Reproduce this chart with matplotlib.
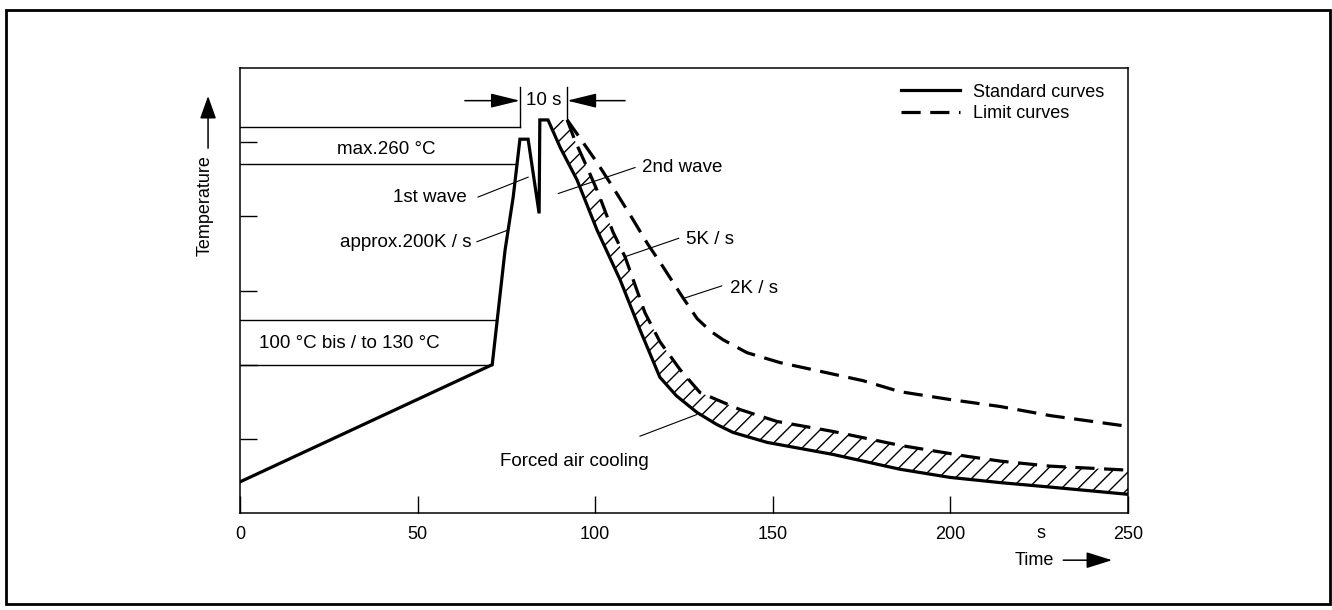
import numpy as np
import matplotlib
matplotlib.use("Agg")
import matplotlib.pyplot as plt
from matplotlib.patches import Rectangle

plt.rcParams["font.family"] = ["Liberation Sans", "DejaVu Sans"]
plt.rcParams["font.size"] = 13

# standard profile: preheat, 1st wave, 2nd wave, forced air cooling (t in s, T in degC)
t_std = [0, 71, 72.4, 74.6, 76.9, 78.8, 81.1, 84.2, 84.4, 86.7, 90.1, 94.9, 100.5,
         107.0, 112.6, 118.2, 122.9, 128.7, 134.2, 138.8, 148.4, 166.9, 185.8, 199.9,
         214.0, 228.0, 250]
T_std = [21, 100, 130, 177, 213, 252, 252, 202, 265, 265, 246.6, 224.4, 190.8,
         157.2, 123.5, 91.5, 78.9, 67.7, 59.7, 54.3, 47.6, 39.5, 29.5, 24.0,
         20.5, 17.5, 12.6]

# limit curve 5 K/s (edge of the hatched band)
t_5k = [92.1, 94.3, 97.7, 100.8, 105.0, 108.4, 111.2, 114.0, 118.2, 123.9, 129.5,
        140.8, 151.2, 166.9, 185.8, 204.7, 214.0, 228.0, 250]
T_5k = [265, 251, 233, 216, 189.4, 172.6, 153.8, 135.0, 115.5, 96.6, 81.2,
        69.7, 61.7, 55.0, 45.6, 38.2, 35.0, 31.6, 28.9]

# limit curve 2 K/s
t_2k = [92.1, 95.2, 100.5, 105.0, 110.4, 114.6, 119.1, 124.7, 128.7, 132.5, 136.0,
        142.7, 152.0, 161.3, 175.4, 185.8, 199.9, 214.0, 228.0, 250]
T_2k = [265, 254.5, 236.3, 219.5, 198.7, 182.0, 165.9, 145.1, 131.0, 122.5, 116.8,
        108.1, 101.4, 96.6, 89.2, 81.8, 76.5, 71.8, 65.7, 58.4]

band_T = [100, 130, 235, 260]          # preheat window, peak window
x_ticks = [0, 50, 100, 150, 200, 250]
y_ticks = [50, 100, 150, 200, 250]

fig = plt.figure(figsize=(13.32, 6.10), dpi=100)
ax = fig.add_axes([0.1802, 0.159, 0.6667, 0.7295])
ax.set_xlim(0, 250)
ax.set_ylim(0, 300)

# helper lines of the temperature windows, ending on the rising flank
rise_t, rise_T = t_std[1:6], T_std[1:6]
for T in band_T:
    ax.plot([0, np.interp(T, rise_T, rise_t)], [T, T], color="k", lw=1.0)

# hatched band between standard and 5 K/s curve
i0 = 9
poly_t = np.concatenate([t_std[i0:], t_5k[::-1]])
poly_T = np.concatenate([T_std[i0:], T_5k[::-1]])
ax.fill(poly_t, poly_T, facecolor="none", edgecolor="k", hatch="//", lw=0)

std_line, = ax.plot(t_std, T_std, color="k", lw=2.3, solid_joinstyle="miter")
ax.plot(t_5k, T_5k, color="k", lw=2.3, dashes=(6, 3))
lim_line, = ax.plot(t_2k, T_2k, color="k", lw=2.3, dashes=(6, 3))

# 10 s bracket
t_a, t_b = t_std[5], t_5k[0]
ax.plot([t_a, t_a], [260, 287], color="k", lw=1.0)
ax.plot([t_b, t_b], [265, 287], color="k", lw=1.0)
arr = dict(arrowstyle="-|>,head_length=0.9,head_width=0.22", color="k", lw=1.1,
           mutation_scale=20, shrinkA=0, shrinkB=0)
ax.annotate("", xy=(t_a, 278), xytext=(63.3, 278), arrowprops=arr)
ax.annotate("", xy=(t_b, 278), xytext=(108.4, 278), arrowprops=arr)
ax.text((t_a + t_b) / 2, 278, "10 s", ha="center", va="center", fontsize=13.5)

# labels with leaders
fs = 13.5
ax.text(41.1, 245, "max.260 °C", ha="center", va="center", fontsize=fs)
ax.text(30.7, 114, "100 °C bis / to 130 °C", ha="center", va="center", fontsize=fs)
ax.text(63.9, 213, "1st wave", ha="right", va="center", fontsize=fs)
ax.plot([67.0, 81.1], [213, 226.4], color="k", lw=0.8)
ax.text(65.2, 182.5, "approx.200K / s", ha="right", va="center", fontsize=fs)
ax.plot([66.7, 75.5], [182.9, 190.8], color="k", lw=0.8)
ax.text(113.3, 233, "2nd wave", ha="left", va="center", fontsize=fs)
ax.plot([89.6, 111.2], [215.4, 232.9], color="k", lw=0.8)
ax.text(125.6, 184.5, "5K / s", ha="left", va="center", fontsize=fs)
ax.plot([108.4, 123.5], [172.8, 185.2], color="k", lw=0.8)
ax.text(137.8, 151.6, "2K / s", ha="left", va="center", fontsize=fs)
ax.plot([125.0, 135.6], [144.8, 153.1], color="k", lw=0.8)
ax.text(73.2, 35, "Forced air cooling", ha="left", va="center", fontsize=fs)
ax.plot([112.6, 128.6], [51.8, 66.4], color="k", lw=0.8)

ax.legend([std_line, lim_line], ["Standard curves", "Limit curves"],
          loc="upper left", bbox_to_anchor=(0.734, 0.985), frameon=False,
          handlelength=3.3, handletextpad=0.7, borderpad=0, labelspacing=0.25)

# axes styling
ax.set_xticks(x_ticks)
ax.set_yticks(y_ticks)
ax.set_yticklabels([])
ax.tick_params(direction="in", length=12.5, width=1.0, pad=9)
for s in ax.spines.values():
    s.set_linewidth(1.1)
ax.text(225.4, -0.045, "s", transform=ax.get_xaxis_transform(),
        ha="center", va="center")

# axis titles with arrows
ax.text(-0.039, 0.69, "Temperature", rotation=90, transform=ax.transAxes,
        ha="center", va="center")
ax.annotate("", xy=(-0.036, 0.937), xytext=(-0.036, 0.82), xycoords="axes fraction",
            arrowprops=dict(arrowstyle="-|>,head_length=0.7,head_width=0.25",
                            color="k", lw=1.1, mutation_scale=20, shrinkA=0, shrinkB=0))
ax.text(0.894, -0.106, "Time", transform=ax.transAxes, ha="center", va="center")
ax.annotate("", xy=(0.982, -0.106), xytext=(0.927, -0.106), xycoords="axes fraction",
            arrowprops=dict(arrowstyle="-|>,head_length=0.8,head_width=0.25",
                            color="k", lw=1.1, mutation_scale=20, shrinkA=0, shrinkB=0))

# outer frame
fig.patches.append(Rectangle((6 / 1332, 6 / 610), 1324 / 1332, 594 / 610,
                             transform=fig.transFigure, fill=False,
                             edgecolor="k", lw=2.0))

fig.savefig("out.png", dpi=100)
